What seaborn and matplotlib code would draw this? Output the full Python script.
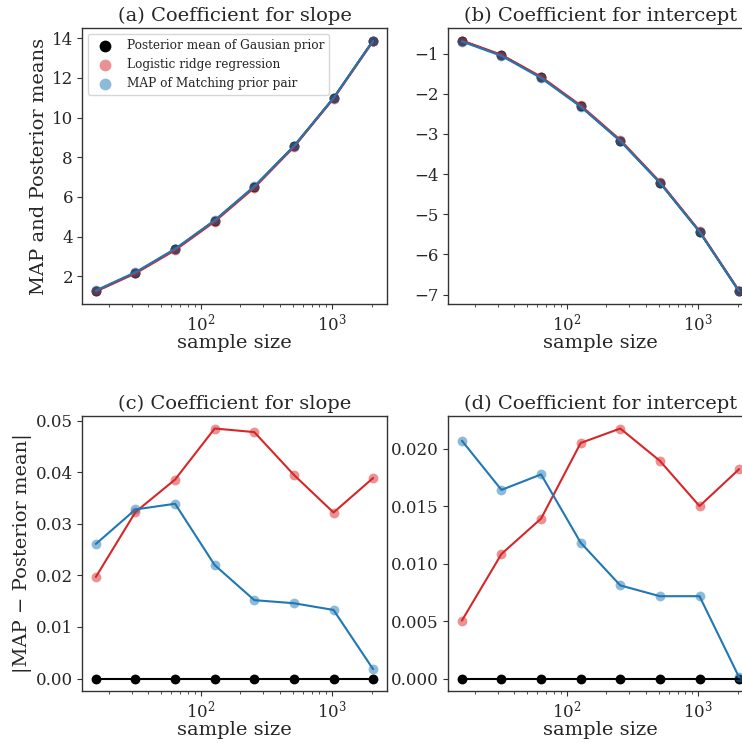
import numpy as np
import pandas as pd
import matplotlib
matplotlib.use("Agg")
import matplotlib.pyplot as plt
import seaborn as sns

sample_size = [16, 32, 64, 128, 256, 512, 1024, 2048]

# (a) slope estimates
slope_post = [1.25, 2.17, 3.35, 4.80, 6.51, 8.55, 10.98, 13.88]
slope_ridge = [1.23, 2.14, 3.31, 4.75, 6.46, 8.51, 10.95, 13.84]
slope_match = [1.28, 2.20, 3.38, 4.82, 6.53, 8.56, 10.99, 13.88]

# (b) intercept estimates
icpt_post = [-0.68, -1.04, -1.59, -2.31, -3.17, -4.21, -5.43, -6.92]
icpt_ridge = [-0.675, -1.03, -1.576, -2.29, -3.148, -4.191, -5.415, -6.902]
icpt_match = [-0.70, -1.056, -1.608, -2.322, -3.178, -4.217, -5.437, -6.92]

# (c) |MAP - posterior mean| for slope
dslope_post = [0, 0, 0, 0, 0, 0, 0, 0]
dslope_ridge = [0.0197, 0.0323, 0.0386, 0.0485, 0.0478, 0.0395, 0.0322, 0.0389]
dslope_match = [0.0261, 0.0328, 0.0339, 0.0220, 0.0152, 0.0146, 0.0133, 0.0018]

# (d) |MAP - posterior mean| for intercept
dicpt_post = [0, 0, 0, 0, 0, 0, 0, 0]
dicpt_ridge = [0.00504, 0.01085, 0.01393, 0.02052, 0.02178, 0.01896, 0.01502, 0.01824]
dicpt_match = [0.02072, 0.01643, 0.01778, 0.01183, 0.00811, 0.00717, 0.00717, 0.0001]

titles = ["(a) Coefficient for slope", "(b) Coefficient for intercept",
          "(c) Coefficient for slope", "(d) Coefficient for intercept"]
labels = ["Posterior mean of Gausian prior", "Logistic ridge regression",
          "MAP of Matching prior pair"]

sns.set_theme(style="ticks")
plt.rcParams["font.family"] = ["DejaVu Serif"]
plt.rcParams["mathtext.fontset"] = "dejavuserif"
plt.rcParams["axes.edgecolor"] = "#333333"
plt.rcParams["axes.linewidth"] = 1.0

BLACK = "black"
RED = "#d62728"
BLUE = "#1f77b4"

fig = plt.figure(figsize=(7.42, 7.43), dpi=100)
W, H = 742, 743
boxes = [(82, 28, 387, 304), (448, 28, 753, 304),
         (82, 416, 387, 691), (448, 416, 753, 691)]
axes = []
for (x0, y0, x1, y1) in boxes:
    axes.append(fig.add_axes([x0 / W, 1 - y1 / H, (x1 - x0) / W, (y1 - y0) / H]))

panels = [
    (slope_post, slope_ridge, slope_match),
    (icpt_post, icpt_ridge, icpt_match),
    (dslope_post, dslope_ridge, dslope_match),
    (dicpt_post, dicpt_ridge, dicpt_match),
]

for i, (ax, (p, r, m)) in enumerate(zip(axes, panels)):
    for vals, col, lab in [(p, BLACK, labels[0]), (r, RED, labels[1]), (m, BLUE, labels[2])]:
        df = pd.DataFrame({"n": sample_size, "v": vals})
        sns.lineplot(data=df, x="n", y="v", color=col, lw=1.5, ax=ax, legend=False)
        sns.scatterplot(data=df, x="n", y="v", color=col,
                        alpha=1.0 if col == BLACK else 0.5, s=50, linewidth=0,
                        ax=ax, label=lab if i == 0 else None, legend=(i == 0))
    ax.set_xscale("log")
    ax.set_title(titles[i], fontsize=14, pad=5)
    ax.set_xlabel("sample size", fontsize=14, labelpad=0)
    ax.set_ylabel("")
    ax.tick_params(which="major", labelsize=12, length=3.5, width=0.8, pad=3,
                   color="#333333")
    ax.tick_params(axis="x", which="major", pad=2.5)
    ax.tick_params(which="minor", length=2, width=0.6, color="#333333")

axes[0].set_ylabel("MAP and Posterior means", fontsize=14, labelpad=3)
axes[2].set_ylabel("|MAP − Posterior mean|", fontsize=14, labelpad=3)
axes[0].legend(loc="upper left", fontsize=8.7, markerscale=1.2)
axes[2].set_yticks([0.0, 0.01, 0.02, 0.03, 0.04, 0.05])
axes[3].set_yticks([0.0, 0.005, 0.010, 0.015, 0.020])
axes[2].set_yticklabels(["0.00", "0.01", "0.02", "0.03", "0.04", "0.05"])
axes[3].set_yticklabels(["0.000", "0.005", "0.010", "0.015", "0.020"])

fig.savefig("out.png", dpi=100)
